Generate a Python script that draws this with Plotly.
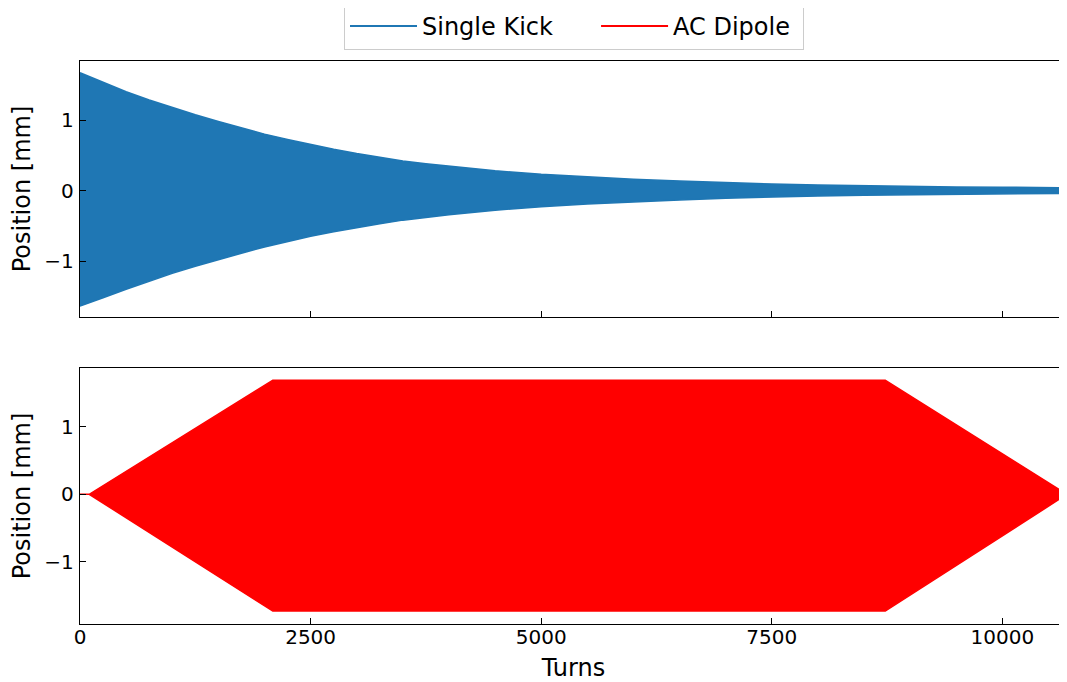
import plotly.graph_objects as go
from plotly.subplots import make_subplots

# ---- Data (envelope of the turn-by-turn oscillation) ----
kick_turns = [0, 250, 500, 750, 1000, 1250, 1500, 1750, 2000, 2250, 2500, 2750, 3000, 3250,
              3500, 3750, 4000, 4500, 5000, 5500, 6000, 6500, 7000, 7500, 8000, 8500, 9000,
              9500, 10000, 10700]
kick_upper = [1.67, 1.53, 1.40, 1.285, 1.175, 1.075, 0.98, 0.89, 0.80, 0.725, 0.65, 0.585, 0.525, 0.47,
              0.42, 0.38, 0.345, 0.28, 0.23, 0.19, 0.16, 0.135, 0.112, 0.093, 0.078, 0.067, 0.058,
              0.051, 0.046, 0.04]
kick_lower = [-1.64, -1.52, -1.40, -1.285, -1.175, -1.075, -0.98, -0.89, -0.80, -0.725, -0.65, -0.585, -0.525, -0.47,
              -0.42, -0.38, -0.345, -0.28, -0.23, -0.19, -0.16, -0.133, -0.11, -0.091, -0.077, -0.066, -0.057,
              -0.05, -0.045, -0.04]

ac_turns = [0, 100, 2090, 8730, 10700]
ac_upper = [0.0, 0.0, 1.69, 1.69, 0.0]
ac_lower = [0.0, 0.0, -1.73, -1.73, 0.0]

x_ticks = [0, 2500, 5000, 7500, 10000]
x_ticktext = ["0", "2500", "5000", "7500", "10000"]
y_ticks = [-1, 0, 1]

BLUE = "#1f77b4"
RED = "#ff0000"
FONT = "DejaVu Sans"
NB = "\u00a0"

fig = make_subplots(rows=2, cols=1, shared_xaxes=True, vertical_spacing=0.0906)

def band(turns, upper, lower, color):
    xs = list(turns) + list(reversed(turns))
    ys = list(upper) + list(reversed(lower))
    return go.Scatter(x=xs, y=ys, mode="lines", fill="toself", fillcolor=color,
                      line=dict(color=color, width=1.5), showlegend=False, hoverinfo="skip")

fig.add_trace(band(kick_turns, kick_upper, kick_lower, BLUE), row=1, col=1)
fig.add_trace(band(ac_turns, ac_upper, ac_lower, RED), row=2, col=1)

# legend entries (line symbols)
fig.add_trace(go.Scatter(x=[None], y=[None], mode="lines", name="Single Kick" + NB * 5,
                         line=dict(color=BLUE, width=2)), row=1, col=1)
fig.add_trace(go.Scatter(x=[None], y=[None], mode="lines", name="AC Dipole" + NB,
                         line=dict(color=RED, width=2)), row=2, col=1)

axis_common = dict(showline=True, linecolor="black", linewidth=1.3, mirror=True,
                   ticks="inside", ticklen=6, tickwidth=1.3, tickcolor="black",
                   showgrid=False, zeroline=False, automargin=False,
                   tickfont=dict(family=FONT, size=20, color="black"))

fig.update_xaxes(range=[0, 10700], tickvals=x_ticks, ticktext=x_ticktext, **axis_common)
fig.update_xaxes(showticklabels=False, row=1, col=1)
fig.update_xaxes(title=dict(text="Turns", font=dict(family=FONT, size=24, color="black"), standoff=11),
                 ticklabelstandoff=-5, row=2, col=1)

fig.update_yaxes(tickvals=y_ticks, ticklabelstandoff=1,
                 title=dict(text="Position [mm]", font=dict(family=FONT, size=24, color="black"), standoff=6),
                 **axis_common)
fig.update_yaxes(range=[-1.794, 1.837], row=1, col=1)
fig.update_yaxes(range=[-1.921, 1.871], row=2, col=1)

# the page body adds an 8 px offset, so left/top margins are reduced by 8 px
fig.update_layout(
    width=1067, height=682,
    margin=dict(l=72, r=8, t=53, b=66, autoexpand=False),
    paper_bgcolor="white", plot_bgcolor="white",
    font=dict(family=FONT, color="black"),
    legend=dict(orientation="h", x=(344 - 80) / 987, xanchor="left", yref="paper", y=1.1030, yanchor="top",
                bordercolor="#cccccc", borderwidth=1, bgcolor="white",
                font=dict(family=FONT, size=24, color="black"),
                itemwidth=67),
)

fig.write_html("out.html")
